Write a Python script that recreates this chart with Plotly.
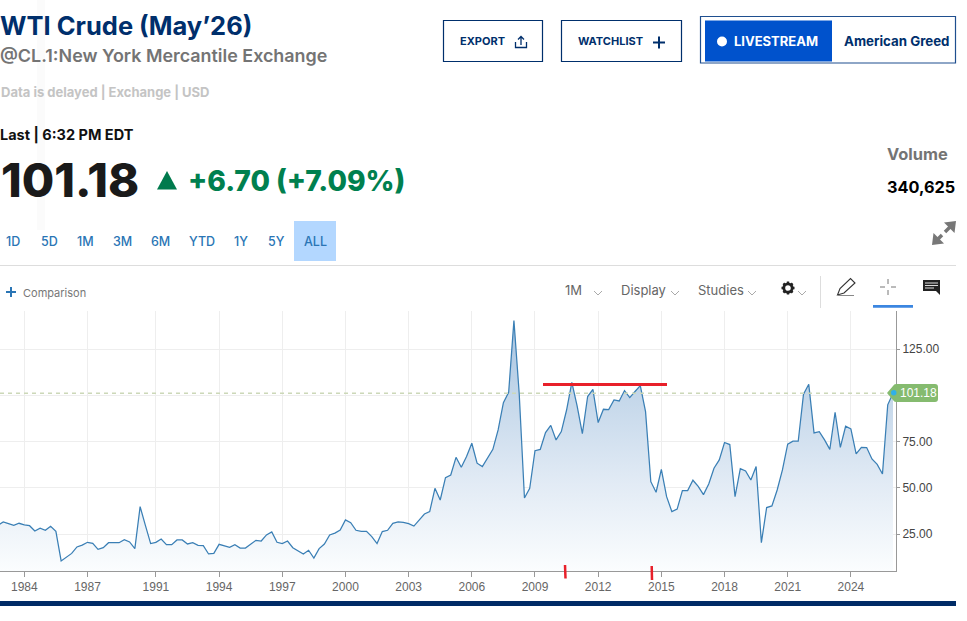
import plotly.graph_objects as go

W = 967
H = 621

# Precio WTI, un punto por periodo
prices = [
    29.7, 31.5, 30.6, 29.7, 30.8, 29.9, 29.5, 26.6, 28.2, 27.0, 29.2, 26.4, 10.4, 12.4, 14.5, 18.0,
    19.0, 20.5, 19.9, 16.7, 17.6, 20.3, 20.3, 20.3, 21.9, 20.7, 17.1, 39.8, 29.7, 19.8, 20.5, 22.3,
    19.2, 19.2, 21.8, 21.8, 19.6, 20.3, 18.9, 18.7, 14.2, 14.5, 19.4, 18.5, 17.8, 19.2, 17.4, 17.4,
    19.4, 21.6, 21.2, 24.5, 26.1, 20.5, 19.8, 21.2, 17.6, 15.8, 14.2, 16.2, 12.0, 17.1, 19.6, 24.5,
    25.5, 27.2, 32.6, 31.1, 27.0, 26.4, 26.4, 23.6, 19.8, 26.3, 27.0, 30.8, 31.5, 31.3, 30.6, 29.3,
    32.6, 35.8, 37.1, 49.7, 43.4, 55.5, 56.9, 66.5, 61.1, 66.9, 74.1, 63.3, 61.5, 66.0, 70.8, 81.3,
    96.1, 101.7, 140.5, 101.2, 44.5, 49.7, 70.1, 70.8, 79.9, 83.8, 75.9, 80.4, 92.1, 107.0, 94.3, 79.3,
    99.4, 103.3, 85.3, 92.5, 92.3, 97.6, 97.0, 102.6, 98.8, 102.1, 105.3, 91.2, 53.3, 47.6, 60.0, 45.2,
    37.1, 38.5, 48.5, 48.5, 54.1, 50.8, 46.3, 52.1, 60.6, 65.1, 74.5, 73.4, 45.2, 60.4, 59.1, 54.2,
    61.5, 20.3, 39.3, 40.2, 48.8, 59.7, 73.6, 75.2, 75.2, 100.6, 106.0, 79.7, 80.4, 75.9, 70.8, 90.9,
    71.9, 83.3, 81.9, 68.3, 71.9, 71.8, 65.6, 62.7, 57.5, 94.9, 101.18,
]
periods = list(range(len(prices)))

year_labels = ["1984", "1987", "1991", "1994", "1997", "2000", "2003", "2006", "2009", "2012", "2015", "2018", "2021", "2024"]
year_periods = [5, 17, 30, 42, 54, 66, 78, 90, 102, 114, 126, 138, 150, 162]

price_ticks = [25, 50, 75, 100, 125]
price_labels = ["25.00", "50.00", "75.00", "", "125.00"]

last_price = 101.18

range_labels = ["1D", "5D", "1M", "3M", "6M", "YTD", "1Y", "5Y", "ALL"]
range_centers = [13, 49, 85, 122, 160, 202, 241, 276, 315]

NAVY = "#002f6c"
BLUE_TXT = "#2a75b5"
GREEN = "#00804f"
UI_FONT = "Inter"
CHART_FONT = "Liberation Sans"


def xp(x):
    return x / W


def yp(y):
    return 1 - y / H


def px_path(d):
    # convierte un path en pixeles de la pagina a coordenadas paper
    out = []
    is_x = True
    for tok in d.split():
        if tok.isalpha():
            out.append(tok)
        else:
            out.append(str(xp(float(tok)) if is_x else yp(float(tok))))
            is_x = not is_x
    return " ".join(out)


shapes = []
notes = []


def add_path(d, color=None, width=1, fill=None, layer="above"):
    shapes.append(dict(type="path", xref="paper", yref="paper", path=px_path(d), layer=layer,
                       fillcolor=fill or "rgba(0,0,0,0)",
                       line=dict(color=color or "rgba(0,0,0,0)", width=width)))


def add_rect(x0, y0, x1, y1, color=None, width=1, fill=None, layer="above"):
    add_path(f"M {x0} {y0} L {x1} {y0} L {x1} {y1} L {x0} {y1} Z", color, width, fill, layer)


def add_text(x, y, text, size, color, weight=400, anchor="left", family=UI_FONT):
    notes.append(dict(xref="paper", yref="paper", x=xp(x), y=yp(y), text=text, showarrow=False,
                      xanchor=anchor, yanchor="middle", borderpad=0,
                      font=dict(family=family, size=size, color=color, weight=weight)))


def chevron(x, y):
    add_path(f"M {x} {y} L {x + 4} {y + 4} L {x + 8} {y}", "#aaaaaa", 1)


# Encabezado
add_rect(37, 0, 45, 230, fill="#fbfbfb", layer="below")
add_text(-1, 26, "WTI Crude (May’26)", 25.5, NAVY, 700)
add_text(-1, 56, "@CL.1:New York Mercantile Exchange", 17.9, "#747474", 600)
add_text(0, 92, "Data is delayed | Exchange | USD", 13, "#c4c4c4", 700)
add_text(-1, 135.5, "Last | 6:32 PM EDT", 14.5, "#111111", 700)
add_text(0, 180, "101.18", 47, "#1a1a1a", 800)
add_path("M 157 189.5 L 177 189.5 L 167 171 Z", fill="#007a4d")
add_text(187, 181, "+6.70 (+7.09%)", 28.2, GREEN, 800)
add_text(886, 154, "Volume", 16.4, "#747474", 700)
add_text(886, 187, "340,625", 16.3, "#000000", 700)

# Botones
add_rect(443.5, 20.5, 542.5, 61.5, NAVY, 1.2)
add_text(459, 41.5, "EXPORT", 11, NAVY, 700)
add_path("M 515.5 42 L 515.5 47.5 L 526.5 47.5 L 526.5 42", NAVY, 1.3)
add_path("M 521 45 L 521 36.5 M 518 39.5 L 521 36.5 L 524 39.5", NAVY, 1.3)
add_rect(561.5, 20.5, 681.5, 61.5, NAVY, 1.2)
add_text(577, 41.5, "WATCHLIST", 11, NAVY, 700)
add_path("M 653 42.5 L 665 42.5 M 659 36.5 L 659 48.5", NAVY, 2)
add_rect(700.5, 16.5, 955.5, 63, "#1f4f8f", 1.2)
add_rect(705, 20.5, 832, 61.5, fill="#0052cc")
shapes.append(dict(type="circle", xref="paper", yref="paper", x0=xp(717), x1=xp(727), y0=yp(36.5), y1=yp(46.5),
                   fillcolor="white", line=dict(width=0)))
add_text(733, 41, "LIVESTREAM", 13, "white", 700)
add_text(843, 41, "American Greed", 13.3, NAVY, 700)
add_path("M 956 221 L 944 222.5 L 954.5 233 Z", fill="#777777")
add_path("M 932 245 L 944 243.5 L 933.5 233 Z", fill="#777777")
add_path("M 950 227 L 945 232 M 938 239 L 942 235", "#777777", 3.5)

# Rangos
add_rect(294, 221, 336, 261, fill="#b3d7ff", layer="below")
for label, center in zip(range_labels, range_centers):
    add_text(center, 241.5, label, 12.5, BLUE_TXT, 500, "center")
add_path("M 0 265.5 L 956 265.5", "#dddddd", 1)

# Barra de herramientas
add_path("M 6 292 L 16 292 M 11 287 L 11 297", BLUE_TXT, 2)
add_text(22, 293, "Comparison", 11, "#777777")
add_text(564, 289.5, "1M", 13, "#666666")
chevron(594, 291)
add_text(620, 289.5, "Display", 13, "#666666")
chevron(671, 291)
add_text(696.5, 289.5, "Studies", 13, "#666666")
chevron(748, 291)
shapes.append(dict(type="circle", xref="paper", yref="paper", x0=xp(783.8), x1=xp(792.2), y0=yp(283.8), y1=yp(292.2),
                   line=dict(color="#222222", width=2.8)))
add_path(
    "M 788 281.5 L 788 283.5 M 788 292.5 L 788 294.5 M 781.5 288 L 783.5 288 M 792.5 288 L 794.5 288 "
    "M 783.4 283.4 L 784.8 284.8 M 791.2 291.2 L 792.6 292.6 M 783.4 292.6 L 784.8 291.2 M 791.2 284.8 L 792.6 283.4",
    "#222222", 2.4)
chevron(798, 291)
add_path("M 820.5 276 L 820.5 308", "#dddddd", 1)
add_path("M 837.5 295 L 840 288.5 L 850.5 278.5 L 855 283 L 844 293 Z", "#333333", 1.1)
add_path("M 838 295.5 L 854 295.5", "#888888", 1)
add_path("M 880 287 L 885 287 M 891 287 L 896 287 M 888 279 L 888 284 M 888 290 L 888 295", "#777777", 1)
add_rect(873, 305, 913, 307.7, fill="#3b86e0")
add_path("M 923 280 L 940 280 L 940 295 L 936 291 L 923 291 Z", fill="#222222")
add_path("M 925 283 L 938 283 M 925 285.5 L 938 285.5 M 925 288 L 934 288", "#dddddd", 1)

# Barra inferior
add_rect(0, 601, 956, 606, fill="#002b66")

# Linea del ultimo precio, etiqueta y marcas rojas
shapes.append(dict(type="line", xref="paper", yref="y", x0=0, x1=xp(888), y0=last_price, y1=last_price, layer="above",
                   line=dict(color="#ccd8b8", width=1.6, dash="4px,4px")))
add_path("M 887 393 L 893 386 Q 894 384 896 384 L 935 384 Q 938 384 938 387 L 938 399 Q 938 402 935 402 L 896 402 Q 894 402 893 400 Z", fill="#85bb6f")
add_text(899, 393, "101.18", 12, "white", 400, family=CHART_FONT)
shapes.append(dict(type="circle", xref="paper", yref="paper", x0=xp(891), x1=xp(896.5), y0=yp(390), y1=yp(395.5),
                   fillcolor="#2fb0e8", line=dict(width=0)))
add_path("M 543 384.5 L 667 384.5", "#e8202a", 3)
add_path("M 565 565 L 565.5 578.5", "#e8202a", 2.5)
add_path("M 651.7 566 L 652 580", "#e8202a", 2.5)

fig = go.Figure()
fig.add_trace(go.Scatter(
    x=periods, y=prices, mode="lines",
    line=dict(color="#3a7fb5", width=1.25),
    fill="tozeroy",
    fillgradient=dict(type="vertical", start=5, stop=140,
                      colorscale=[[0, "#fbfdfe"], [0.35, "#e2ebf5"], [0.7, "#c4d7ea"], [1, "#a6c3e0"]]),
    hoverinfo="skip",
))

fig.update_layout(
    width=W, height=H,
    margin=dict(l=0, r=0, t=0, b=0),
    paper_bgcolor="white", plot_bgcolor="white",
    showlegend=False, hovermode=False,
    shapes=shapes, annotations=notes,
    xaxis=dict(domain=[0, 896 / W], range=[0.385, 170.57], tickmode="array",
               tickvals=year_periods, ticktext=year_labels,
               showgrid=True, gridcolor="#eeeeee", zeroline=False,
               showline=True, linecolor="#999999", ticks="outside", ticklen=5, tickcolor="#999999",
               tickfont=dict(family=CHART_FONT, size=12, color="#666666")),
    yaxis=dict(domain=[(H - 571) / H, (H - 311) / H], range=[4.98, 145.67], side="right", tickmode="array",
               tickvals=price_ticks, ticktext=price_labels,
               showgrid=True, gridcolor="#eeeeee", zeroline=False,
               showline=True, linecolor="#999999", ticks="outside", ticklen=3, tickcolor="#999999",
               tickfont=dict(family=CHART_FONT, size=12, color="#444444")),
)

fig.write_html("out.html", config={"displayModeBar": False}, post_script="document.body.style.margin='0';")
